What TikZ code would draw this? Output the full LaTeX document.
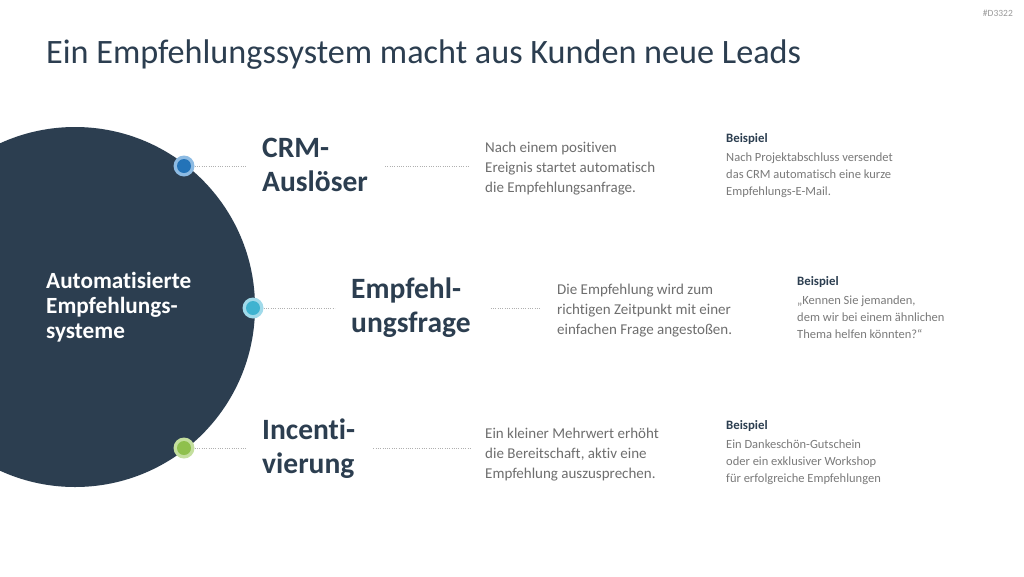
\documentclass[tikz,border=0pt]{standalone}
\usepackage{fontspec}
\setmainfont{Carlito}[Ligatures=NoCommon]
\definecolor{navy}{HTML}{2C3E50}
\definecolor{txtgray}{HTML}{6E6E6E}
\definecolor{exgray}{HTML}{7A7A7A}
\definecolor{dotgray}{HTML}{B0B0B0}
\definecolor{cblue}{HTML}{2373B8}
\definecolor{hblue}{HTML}{8DBBE3}
\definecolor{cteal}{HTML}{3FB3D0}
\definecolor{hteal}{HTML}{A0DAEA}
\definecolor{cgreen}{HTML}{8FC04D}
\definecolor{hgreen}{HTML}{C4DF9E}
\tikzset{
  halo/.style={circle, fill=#1, minimum size=21pt, inner sep=0pt},
  core/.style={circle, fill=#1, minimum size=14pt, inner sep=0pt},
  head/.style={anchor=west, inner sep=0pt, align=left, text=navy, font=\fontsize{29.5}{34}\selectfont\bfseries},
  desc/.style={anchor=west, inner sep=0pt, align=left, text=txtgray, font=\fontsize{15}{20}\selectfont},
  exhead/.style={anchor=west, inner sep=0pt, text=navy, font=\fontsize{12.8}{15}\selectfont\bfseries},
  exbody/.style={anchor=north west, inner sep=0pt, align=left, text=exgray, font=\fontsize{12.5}{17}\selectfont},
  dotline/.style={draw=dotgray, line width=0.9pt, dash pattern=on 0.9pt off 1.4pt},
}
\begin{document}
\begin{tikzpicture}[x=1pt,y=-1pt]
\useasboundingbox (0,0) rectangle (1024,576);
\clip (0,0) rectangle (1024,576);
\fill[white] (0,0) rectangle (1024,576);

\node[anchor=east, inner sep=0pt, text=gray!80, font=\fontsize{9.5}{10}\selectfont] (code) at (1013,13) {\#D3322};
\node[anchor=west, inner sep=0pt, text=navy, font=\fontsize{34.2}{40}\selectfont] (title) at (46,55) {Ein Empfehlungssystem macht aus Kunden neue Leads};

\node[circle, fill=navy, minimum size=360pt, inner sep=0pt] (big) at (75,307) {};
\node[anchor=west, inner sep=0pt, align=left, text=white, font=\fontsize{23.2}{25}\selectfont\bfseries] (bigtxt) at (46,307) {Automatisierte\\Empfehlungs-\\systeme};

% dots
\node[halo=hblue] (p1) at (184,166) {};
\node[core=cblue] (p1c) at (p1) {};
\node[halo=hteal] (p2) at (253,308) {};
\node[core=cteal] (p2c) at (p2) {};
\node[halo=hgreen] (p3) at (184,448) {};
\node[core=cgreen] (p3c) at (p3) {};

% row 1
\node[head] (h1) at (262,165) {CRM-\\Auslöser};
\node[desc] (d1) at (485,169) {Nach einem positiven\\Ereignis startet automatisch\\die Empfehlungsanfrage.};
\node[exhead] (e1) at (726,139) {Beispiel};
\node[exbody] (b1) at (726,153) {Nach Projektabschluss versendet\\das CRM automatisch eine kurze\\Empfehlungs-E-Mail.};

% row 2
\node[head] (h2) at (351,308) {Empfehl-\\ungsfrage};
\node[desc] (d2) at (557,311) {Die Empfehlung wird zum\\richtigen Zeitpunkt mit einer\\einfachen Frage angestoßen.};
\node[exhead] (e2) at (797,282) {Beispiel};
\node[exbody] (b2) at (797,296) {„Kennen Sie jemanden,\\dem wir bei einem ähnlichen\\Thema helfen könnten?“};

% row 3
\node[head] (h3) at (262,449) {Incenti-\\vierung};
\node[desc] (d3) at (485,455) {Ein kleiner Mehrwert erhöht\\die Bereitschaft, aktiv eine\\Empfehlung auszusprechen.};
\node[exhead] (e3) at (726,426) {Beispiel};
\node[exbody] (b3) at (726,440) {Ein Dankeschön-Gutschein\\oder ein exklusiver Workshop\\für erfolgreiche Empfehlungen};

% connectors
\draw[dotline, shorten >=16pt] (p1.east) -- (h1.west |- p1);
\draw[dotline, shorten <=17pt, shorten >=17pt] (h1.east |- p1) -- (d1.west |- p1);
\draw[dotline, shorten >=16pt] (p2.east) -- (h2.west |- p2);
\draw[dotline, shorten <=20pt, shorten >=17pt] (h2.east |- p2) -- (d2.west |- p2);
\draw[dotline, shorten >=16pt] (p3.east) -- (h3.west |- p3);
\draw[dotline, shorten <=18pt, shorten >=15pt] (h3.east |- p3) -- (d3.west |- p3);
\end{tikzpicture}
\end{document}
